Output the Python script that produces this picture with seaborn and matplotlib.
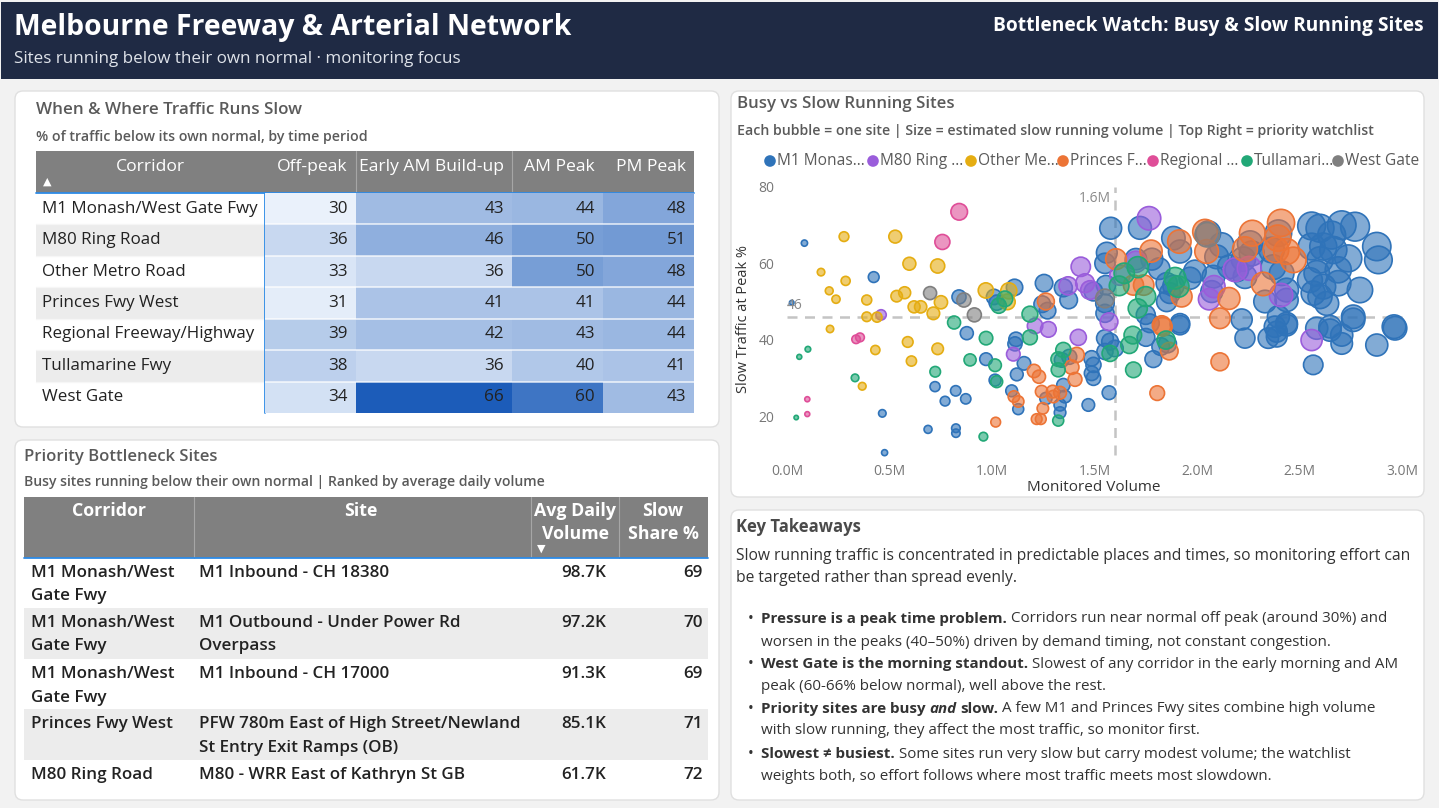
import textwrap
import matplotlib
matplotlib.use("Agg")
import matplotlib.pyplot as plt
from matplotlib import font_manager as fm
from matplotlib.patches import FancyBboxPatch, Rectangle
from matplotlib.colors import LinearSegmentedColormap
import numpy as np
import pandas as pd
import seaborn as sns

W, H = 1439, 808

# --- heatmap data: % of traffic below its own normal
corridors = ["M1 Monash/West Gate Fwy", "M80 Ring Road", "Other Metro Road", "Princes Fwy West",
             "Regional Freeway/Highway", "Tullamarine Fwy", "West Gate"]
periods = ["Off-peak", "Early AM Build-up", "AM Peak", "PM Peak"]
off_peak = [30, 36, 33, 31, 39, 38, 34]
early_am = [43, 46, 36, 41, 42, 36, 66]
am_peak = [44, 50, 50, 41, 43, 40, 60]
pm_peak = [48, 51, 48, 44, 44, 41, 43]

# --- priority sites table
top_corridor = ["M1 Monash/West Gate Fwy", "M1 Monash/West Gate Fwy", "M1 Monash/West Gate Fwy",
                "Princes Fwy West", "M80 Ring Road"]
top_site = ["M1 Inbound - CH 18380", "M1 Outbound - Under Power Rd Overpass", "M1 Inbound - CH 17000",
            "PFW 780m East of High Street/Newland St Entry Exit Ramps (OB)", "M80 - WRR East of Kathryn St GB"]
top_volume_k = [98.7, 97.2, 91.3, 85.1, 61.7]
top_slow_share = [69, 70, 69, 71, 72]

# --- scatter: (monitored volume in M, slow traffic at peak %) per site
m1_sites = [(0.085, 65.3), (0.023, 49.7), (0.423, 56.4), (0.465, 20.7), (0.476, 10.4), (0.688, 16.5),
            (0.722, 27.7), (0.771, 23.9), (0.823, 26.6), (0.824, 16.8), (0.824, 15.5), (0.839, 51.2),
            (0.872, 24.5), (0.877, 41.7), (0.971, 34.9), (1.01, 51.2), (1.023, 49.7), (1.015, 29.4),
            (1.096, 26.6), (1.11, 53.7), (1.117, 40.1), (1.112, 38.9), (1.121, 30.9), (1.128, 21.8),
            (1.156, 33.8), (1.254, 54.8), (1.245, 49.3), (1.271, 47.6), (1.263, 24.6), (1.332, 22.9),
            (1.332, 20.9), (1.34, 34.7), (1.348, 53.6), (1.348, 28.1), (1.356, 25.1), (1.374, 50.4),
            (1.377, 35.5), (1.47, 22.9), (1.486, 35.1), (1.495, 33.4), (1.486, 31.2), (1.495, 29.9),
            (1.495, 52.6), (1.551, 60.0), (1.56, 62.8), (1.579, 69.2), (1.556, 54.3), (1.551, 49.5),
            (1.551, 46.9), (1.551, 40.4), (1.576, 39.5), (1.551, 36.9), (1.6, 37.7), (1.571, 26.1),
            (1.702, 61.1), (1.722, 69.3), (1.75, 46.5), (1.77, 44.3), (1.751, 40.6), (1.78, 61.1),
            (1.787, 34.9), (1.815, 58.6), (1.823, 38.2), (1.852, 54.8), (1.852, 50.0), (1.856, 38.9),
            (1.868, 52.2), (1.885, 66.6), (1.885, 54.1), (1.917, 63.1), (1.917, 44.3), (1.917, 43.8),
            (1.966, 56.1), (1.99, 57.9), (2.055, 67.9), (2.072, 52.6), (2.08, 56.5), (2.096, 61.7),
            (2.12, 64.8), (2.158, 59.1), (2.194, 58.3), (2.218, 45.3), (2.226, 61.1), (2.234, 56.5),
            (2.234, 40.4), (2.259, 65.2), (2.267, 62.6), (2.332, 50.0), (2.348, 40.4), (2.364, 63.5),
            (2.372, 59.0), (2.38, 43.4), (2.389, 40.8), (2.389, 42.1), (2.397, 67.9), (2.397, 46.0),
            (2.413, 57.4), (2.437, 53.0), (2.437, 50.4), (2.437, 44.3), (2.437, 43.8), (2.551, 55.6),
            (2.559, 69.8), (2.559, 64.4), (2.567, 52.2), (2.567, 33.4), (2.584, 57.4), (2.584, 43.0),
            (2.6, 69.2), (2.6, 60.9), (2.6, 51.3), (2.616, 64.4), (2.616, 53.9), (2.633, 49.5),
            (2.649, 43.4), (2.649, 42.5), (2.657, 67.4), (2.665, 63.5), (2.689, 58.3), (2.689, 54.8),
            (2.706, 70.0), (2.706, 41.2), (2.706, 39.0), (2.738, 61.3), (2.762, 46.0), (2.762, 45.2),
            (2.771, 69.6), (2.795, 53.0), (2.877, 64.4), (2.877, 38.6), (2.885, 60.9), (2.961, 43.4),
            (2.966, 43.0)]
m80_sites = [(0.459, 46.5), (1.104, 36.2), (1.21, 43.6), (1.275, 42.7), (1.371, 54.1), (1.421, 40.6),
             (1.433, 59.1), (1.454, 54.8), (1.478, 53.0), (1.571, 44.7), (1.624, 56.9), (1.702, 60.4),
             (1.766, 71.8), (2.059, 50.6), (2.083, 53.9), (2.185, 58.3), (2.255, 58.7), (2.41, 51.7),
             (2.559, 39.9)]
other_sites = [(0.166, 57.7), (0.206, 52.8), (0.21, 42.8), (0.239, 50.6), (0.278, 67.0), (0.286, 55.4),
               (0.367, 27.8), (0.389, 50.4), (0.389, 46.0), (0.431, 37.3), (0.439, 45.9), (0.528, 67.0),
               (0.535, 51.4), (0.574, 52.3), (0.589, 39.4), (0.597, 59.9), (0.607, 34.4), (0.62, 48.6),
               (0.652, 48.6), (0.714, 46.9), (0.735, 59.3), (0.735, 37.6), (0.751, 49.8), (0.97, 52.9),
               (1.075, 49.9), (1.082, 52.8)]
princes_sites = [(1.018, 18.4), (1.107, 25.1), (1.128, 23.8), (1.205, 31.8), (1.218, 19.2), (1.229, 30.3),
                 (1.238, 19.2), (1.242, 26.4), (1.248, 22.0), (1.263, 50.0), (1.296, 26.4), (1.299, 25.1),
                 (1.332, 26.1), (1.389, 32.8), (1.405, 29.6), (1.413, 36.0), (1.605, 61.1), (1.69, 54.3),
                 (1.74, 54.3), (1.776, 63.2), (1.806, 26.0), (1.828, 43.8), (1.833, 43.4), (1.865, 37.0),
                 (1.914, 65.7), (1.925, 51.3), (2.039, 68.3), (2.047, 63.1), (2.112, 45.6), (2.112, 34.2),
                 (2.156, 50.8), (2.234, 63.7), (2.27, 67.9), (2.323, 54.6), (2.385, 63.5), (2.394, 66.6),
                 (2.41, 70.6), (2.437, 63.1), (2.47, 60.9)]
regional_sites = [(0.099, 24.4), (0.099, 20.5), (0.337, 40.1), (0.356, 40.6), (0.758, 65.6), (0.84, 73.5)]
tulla_sites = [(0.045, 19.6), (0.06, 35.5), (0.102, 37.5), (0.332, 30.0), (0.723, 31.6), (0.815, 44.5),
               (0.893, 34.7), (0.958, 14.6), (0.971, 40.4), (1.015, 33.3), (1.023, 29.0), (1.033, 48.9),
               (1.063, 50.7), (1.185, 46.7), (1.185, 40.6), (1.323, 18.8), (1.323, 34.9), (1.323, 32.1),
               (1.348, 37.3), (1.576, 36.4), (1.62, 54.1), (1.645, 57.4), (1.67, 38.6), (1.687, 41.2),
               (1.69, 32.1), (1.711, 59.0), (1.711, 48.2), (1.75, 51.3), (1.849, 39.9), (1.893, 56.1),
               (1.909, 53.9)]
westgate_sites = [(0.698, 52.2), (0.863, 50.4), (0.914, 46.5), (1.551, 50.8), (2.05, 67.5)]

scatter_groups = {"M1 Monash/West Gate Fwy": m1_sites, "M80 Ring Road": m80_sites,
                  "Other Metro Road": other_sites, "Princes Fwy West": princes_sites,
                  "Regional Freeway/Highway": regional_sites, "Tullamarine Fwy": tulla_sites,
                  "West Gate": westgate_sites}
legend_short = ["M1 Monas...", "M80 Ring ...", "Other Me...", "Princes F...", "Regional ...",
                "Tullamari...", "West Gate"]
palette = {"M1 Monash/West Gate Fwy": "#2f73b9", "M80 Ring Road": "#9a5ddb",
           "Other Metro Road": "#e5ad12", "Princes Fwy West": "#ec7436",
           "Regional Freeway/Highway": "#df4e98", "Tullamarine Fwy": "#22a877",
           "West Gate": "#7f7f7f"}
avg_slow_line = 46
avg_volume_line = 1.6

sns.set_theme(style="white")

# pick an installed family that really has a bold face
family = "DejaVu Sans"
for cand in ["Open Sans", "Lato", "Roboto", "Noto Sans", "Liberation Sans"]:
    try:
        reg = fm.findfont(fm.FontProperties(family=cand), fallback_to_default=False)
        bold = fm.findfont(fm.FontProperties(family=cand, weight="bold"), fallback_to_default=False)
    except Exception:
        continue
    if reg != bold:
        family = cand
        break
plt.rcParams["font.family"] = [family, "DejaVu Sans"]

fig = plt.figure(figsize=(W / 100, H / 100), dpi=100)
fig.patch.set_facecolor("#f2f2f2")
renderer = fig.canvas.get_renderer()

bg = fig.add_axes([0, 0, 1, 1])
bg.set_xlim(0, W)
bg.set_ylim(H, 0)
bg.axis("off")


def px_axes(x0, y0, x1, y1):
    return fig.add_axes([x0 / W, 1 - y1 / H, (x1 - x0) / W, (y1 - y0) / H])


def width_of(s, size, weight="normal", style="normal"):
    t = bg.text(0, -50, s, fontsize=size, fontweight=weight, fontstyle=style)
    w = t.get_window_extent(renderer).width
    t.remove()
    return w


def fit(s, px, weight="normal"):
    return 12 * px / width_of(s, 12, weight)


def runs(x, y, parts, size, color="#333333"):
    space = width_of("a a", size) - width_of("aa", size)
    for s, weight, style in parts:
        if s.startswith(" "):
            x += space
        s = s.strip()
        bg.text(x, y, s, fontsize=size, fontweight=weight, fontstyle=style, color=color, va="center")
        x += width_of(s, size, weight, style)


# header band
bg.add_patch(Rectangle((1, 2), W - 2, 77, facecolor="#1f2a44", edgecolor="none"))
bg.text(14, 28, "Melbourne Freeway & Arterial Network", color="white", va="center", fontweight="bold",
        fontsize=fit("Melbourne Freeway & Arterial Network", 556, "bold"))
bg.text(14, 59, "Sites running below their own normal · monitoring focus", color="#dfe3ea", va="center",
        fontsize=fit("Sites running below their own normal · monitoring focus", 445))
bg.text(1424, 26, "Bottleneck Watch: Busy & Slow Running Sites", color="white", va="center", ha="right",
        fontweight="bold", fontsize=fit("Bottleneck Watch: Busy & Slow Running Sites", 428, "bold"))

# panels
for x0, y0, x1, y1 in [(15, 91, 719, 427), (15, 440, 719, 800), (731, 91, 1424, 497), (731, 510, 1424, 800)]:
    bg.add_patch(FancyBboxPatch((x0, y0), x1 - x0, y1 - y0, boxstyle="round,pad=0,rounding_size=8",
                                facecolor="white", edgecolor="#e0e0e0", lw=1))

title_c = "#5a5a5a"
bg.text(36, 110, "When & Where Traffic Runs Slow", color=title_c, va="center", fontweight="semibold",
        fontsize=fit("When & Where Traffic Runs Slow", 266, "semibold"))
bg.text(36, 137, "% of traffic below its own normal, by time period", color=title_c, va="center",
        fontweight="semibold", fontsize=fit("% of traffic below its own normal, by time period", 330, "semibold"))

# heatmap table
heat = pd.DataFrame({"Off-peak": off_peak, "Early AM Build-up": early_am, "AM Peak": am_peak,
                     "PM Peak": pm_peak}, index=corridors)
cmap = LinearSegmentedColormap.from_list("slow", ["#eaf1fb", "#1c5cb9"])
col_edges = [265, 356, 512, 603, 694]
row_top, row_bot = 193, 413
row_h = (row_bot - row_top) / len(corridors)
cell_size = fit("Regional Freeway/Highway", 212)

bg.add_patch(Rectangle((36, 151), 658, 42, facecolor="#808080", edgecolor="none"))
head_size = fit("Early AM Build-up", 144)
bg.text(150, 167, "Corridor", color="white", ha="center", va="center", fontsize=head_size)
bg.text(47, 182, "▲", color="white", ha="center", va="center", fontsize=8, family=["DejaVu Sans"])
for i, p in enumerate(periods):
    bg.text(col_edges[i + 1] - 8, 167, p, color="white", ha="right", va="center", fontsize=head_size)
for xe in col_edges[1:3]:
    bg.plot([xe, xe], [151, 193], color="#a6a6a6", lw=0.8)

for i, c in enumerate(corridors):
    y0 = row_top + i * row_h
    if i % 2 == 1:
        bg.add_patch(Rectangle((36, y0), 229, row_h, facecolor="#ececec", edgecolor="none"))
    bg.text(42, y0 + row_h / 2, c, color="#222222", va="center", fontsize=cell_size)
    if i > 0:
        bg.plot([36, 265], [y0, y0], color="#f6f6f6", lw=1)

for i, p in enumerate(periods):
    ax = px_axes(col_edges[i], row_top, col_edges[i + 1], row_bot)
    sns.heatmap(heat[[p]], ax=ax, cmap=cmap, vmin=30, vmax=66, cbar=False, annot=True, fmt="d",
                annot_kws=dict(fontsize=cell_size, color="#222222"), xticklabels=False, yticklabels=False)
    w = col_edges[i + 1] - col_edges[i]
    for t in ax.texts:
        t.set_ha("right")
        t.set_x(1 - 8 / w)
    for k in range(1, len(corridors)):
        ax.axhline(k, color="white", lw=1.3, alpha=0.7)
    ax.set_xlabel("")
    ax.set_ylabel("")

bg.plot([36, 694], [193, 193], color="#2d8be6", lw=1.3, zorder=5)
bg.plot([265, 265], [193, 413], color="#2d8be6", lw=1.3, zorder=5)

# priority sites table
bg.text(24, 457, "Priority Bottleneck Sites", color=title_c, va="center", fontweight="semibold",
        fontsize=fit("Priority Bottleneck Sites", 193, "semibold"))
bg.text(24, 482, "Busy sites running below their own normal | Ranked by average daily volume", color=title_c,
        va="center", fontweight="semibold",
        fontsize=fit("Busy sites running below their own normal | Ranked by average daily volume", 520, "semibold"))

bg.add_patch(Rectangle((24, 497), 684, 61, facecolor="#808080", edgecolor="none"))
for xe in [194, 531, 619]:
    bg.plot([xe, xe], [497, 558], color="#a6a6a6", lw=0.8)
th = fit("Avg Daily", 82, "bold")
bg.text(109, 511, "Corridor", color="white", ha="center", va="center", fontweight="bold", fontsize=th)
bg.text(361, 511, "Site", color="white", ha="center", va="center", fontweight="bold", fontsize=th)
bg.text(575, 511, "Avg Daily", color="white", ha="center", va="center", fontweight="bold", fontsize=th)
bg.text(575, 534, "Volume", color="white", ha="center", va="center", fontweight="bold", fontsize=th)
bg.text(663, 511, "Slow", color="white", ha="center", va="center", fontweight="bold", fontsize=th)
bg.text(663, 534, "Share %", color="white", ha="center", va="center", fontweight="bold", fontsize=th)
bg.text(541, 549, "▼", color="white", ha="center", va="center", fontsize=8, family=["DejaVu Sans"])

tbl_size = fit("PFW 780m East of High Street/Newland", 322, "semibold")
row_tops = [558, 608, 659, 709, 760]
row_bots = [608, 659, 709, 760, 790]
for i in range(len(top_site)):
    y0 = row_tops[i]
    if i % 2 == 1:
        bg.add_patch(Rectangle((24, y0), 684, row_bots[i] - y0, facecolor="#ececec", edgecolor="none"))
    for j, line in enumerate(textwrap.wrap(top_corridor[i], 16)):
        bg.text(31, y0 + 15 + 23.5 * j, line, color="#222222", va="center", fontsize=tbl_size,
                fontweight="semibold")
    for j, line in enumerate(textwrap.wrap(top_site[i], 36)):
        bg.text(199, y0 + 15 + 23.5 * j, line, color="#222222", va="center", fontsize=tbl_size,
                fontweight="semibold")
    bg.text(606, y0 + 15, f"{top_volume_k[i]}K", color="#222222", va="center", ha="right", fontsize=tbl_size,
            fontweight="semibold")
    bg.text(703, y0 + 15, f"{top_slow_share[i]}", color="#222222", va="center", ha="right", fontsize=tbl_size,
            fontweight="semibold")
bg.plot([24, 708], [558, 558], color="#2d8be6", lw=1.3, zorder=5)

# scatter panel
bg.text(737, 104, "Busy vs Slow Running Sites", color=title_c, va="center", fontweight="semibold",
        fontsize=fit("Busy vs Slow Running Sites", 219, "semibold"))
sub = "Each bubble = one site | Size = estimated slow running volume | Top Right = priority watchlist"
bg.text(737, 131, sub, color=title_c, va="center", fontweight="semibold", fontsize=fit(sub, 634, "semibold"))

leg_x = [770, 873, 971, 1063, 1153, 1247, 1338]
leg_size = fit("Tullamari...", 80)
for x, name, short in zip(leg_x, scatter_groups, legend_short):
    bg.scatter([x], [161], s=70, color=palette[name], edgecolor="none")
    bg.text(x + 7, 161, short, color="#5a5a5a", va="center", fontsize=leg_size)

rows = []
for name, pts in scatter_groups.items():
    for vol, pct in pts:
        rows.append({"corridor": name, "volume": vol, "slow_pct": pct, "slow_volume": vol * pct / 100})
sites = pd.DataFrame(rows)

ax = px_axes(777, 180, 1412, 458)
sns.scatterplot(data=sites, x="volume", y="slow_pct", hue="corridor", palette=palette,
                hue_order=list(scatter_groups), size="slow_volume", sizes=(10, 430), legend=False, ax=ax)
pts = ax.collections[0]
fc = np.array(pts.get_facecolors())
ec = fc.copy()
fc[:, 3] = 0.6
pts.set_facecolors(fc)
pts.set_edgecolors(ec)
pts.set_linewidth(1.2)

ax.set_xlim((777 - 787) / 205, (1412 - 787) / 205)
ax.set_ylim(80 - (458 - 187) / 3.817, 80 + (187 - 180) / 3.817)
ax.hlines(avg_slow_line, 0, 3.0, colors="#c4c4c4", linestyles=(0, (4, 3)), lw=1.8, zorder=0)
ax.vlines(avg_volume_line, 80 - (455 - 187) / 3.817, 80, colors="#c4c4c4", linestyles=(0, (4, 3)), lw=1.8, zorder=0)
ax.text(0.0, avg_slow_line + 1.0, f"{avg_slow_line}", color="#8a8a8a", fontsize=10, va="bottom", ha="left")
ax.text(avg_volume_line - 0.02, 76.9, f"{avg_volume_line}M", color="#8a8a8a", fontsize=10, va="center", ha="right")

ax.set_xticks([0, 0.5, 1.0, 1.5, 2.0, 2.5, 3.0])
ax.set_xticklabels([f"{v:.1f}M" for v in [0, 0.5, 1.0, 1.5, 2.0, 2.5, 3.0]])
ax.set_yticks([20, 40, 60, 80])
ax.tick_params(axis="both", length=0, labelsize=10, labelcolor="#777777")
ax.tick_params(axis="x", pad=4)
ax.tick_params(axis="y", pad=2)
for s in ax.spines.values():
    s.set_visible(False)
ax.set_facecolor("none")
ax.set_xlabel("Monitored Volume", fontsize=11, color="#333333")
ax.set_ylabel("Slow Traffic at Peak %", fontsize=10.5, color="#333333")
ax.xaxis.set_label_coords((1094 - 777) / 635, -(480 - 458) / 278)
ax.yaxis.set_label_coords(-(777 - 751) / 635, 0.5)

# key takeaways
bg.text(736, 527, "Key Takeaways", color="#4a4a4a", va="center", fontweight="bold",
        fontsize=fit("Key Takeaways", 125, "bold"))
para1 = "Slow running traffic is concentrated in predictable places and times, so monitoring effort can"
ps = fit(para1, 668)
bg.text(736, 556, para1, color="#333333", va="center", fontsize=ps)
bg.text(736, 578, "be targeted rather than spread evenly.", color="#333333", va="center", fontsize=ps)

N, B = "normal", "bold"
bullets = [
    (619, [("Pressure is a peak time problem.", B, N), (" Corridors run near normal off peak (around 30%) and", N, N)]),
    (642, [("worsen in the peaks (40–50%) driven by demand timing, not constant congestion.", N, N)]),
    (664, [("West Gate is the morning standout.", B, N), (" Slowest of any corridor in the early morning and AM", N, N)]),
    (687, [("peak (60-66% below normal), well above the rest.", N, N)]),
    (709, [("Priority sites are busy", B, N), (" and", B, "italic"), (" slow.", B, N),
           (" A few M1 and Princes Fwy sites combine high volume", N, N)]),
    (731, [("with slow running, they affect the most traffic, so monitor first.", N, N)]),
    (754, [("Slowest ≠ busiest.", B, N), (" Some sites run very slow but carry modest volume; the watchlist", N, N)]),
    (776, [("weights both, so effort follows where most traffic meets most slowdown.", N, N)]),
]
for k, (y, parts) in enumerate(bullets):
    if k % 2 == 0:
        bg.text(751, y, "•", color="#333333", va="center", ha="center", fontsize=ps)
    runs(761, y, parts, ps * 0.97)

fig.savefig("out.png", dpi=100, facecolor=fig.get_facecolor())
